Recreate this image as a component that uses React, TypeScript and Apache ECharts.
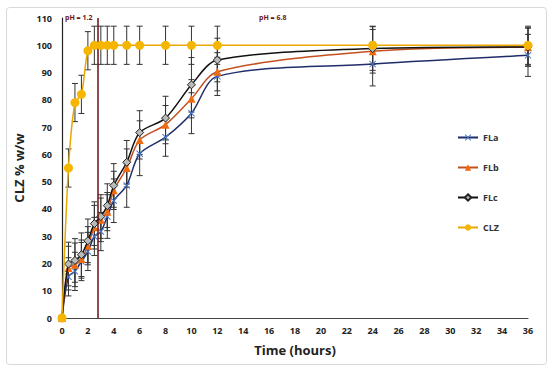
import React, { useEffect, useRef } from "react";
import * as echarts from "echarts";

const times = [0, 0.5, 1, 1.5, 2, 2.5, 3, 3.5, 4, 5, 6, 8, 10, 12, 24, 36];
const flaValues = [0, 15.1, 17.1, 20.7, 24.4, 29.9, 31.7, 37.2, 43, 48.6, 60.2, 66.3, 75.1, 88.6, 93.1, 96.3];
const flbValues = [0, 18.3, 19.5, 21.6, 26.5, 33.3, 36, 39, 46.8, 55, 65.3, 70.9, 80.4, 90.3, 97.8, 99.3];
const flcValues = [0, 19.8, 21.1, 23.2, 28.3, 34.6, 37.2, 41.2, 48.6, 57.1, 68, 73.3, 85.5, 94.6, 98.8, 99.4];
const clzValues = [0, 55, 79, 82, 98, 100, 100, 100, 100, 100, 100, 100, 100, 100, 100, 100];
const flaErrors = [0, 7, 7, 7, 7, 7, 7, 8, 8, 8, 8, 7, 7.5, 7, 8, 7.7];
const flbErrors = [0, 8, 8, 7, 7, 8, 8, 7, 7, 7, 7, 7, 7, 7, 8, 7];
const flcErrors = [0, 8, 8, 8, 8, 8, 8, 8, 8, 8, 8, 8, 10, 8, 8, 7];
const clzErrors = [0, 7, 7, 7, 7, 7, 7, 7, 7, 7, 7, 7, 7, 7, 7, 7];
const phSwitchTime = 2.8;
const phLabels = ["pH = 1.2", "pH = 6.8"];
const seriesNames = ["FLa", "FLb", "FLc", "CLZ"];

const xMark = "path://M0,1 L1,0 L5,4 L9,0 L10,1 L6,5 L10,9 L9,10 L5,6 L1,10 L0,9 L4,5 Z";

function pairs(vals: number[]) {
  return times.map((t, i) => [t, vals[i]]);
}
function errData(vals: number[], errs: number[]) {
  return times
    .map((t, i) => [t, vals[i] - errs[i], vals[i] + errs[i]])
    .filter((d, i) => errs[i] > 0);
}

function errorSeries(vals: number[], errs: number[]) {
  return {
    type: "custom",
    silent: true,
    z: 1,
    legendHoverLink: false,
    data: errData(vals, errs),
    renderItem: (params: any, api: any) => {
      const x = api.value(0);
      const lo = api.coord([x, api.value(1)]);
      const hi = api.coord([x, api.value(2)]);
      const w = 3;
      const style = { stroke: "#333", lineWidth: 1 };
      return {
        type: "group",
        children: [
          { type: "line", shape: { x1: lo[0], y1: lo[1], x2: hi[0], y2: hi[1] }, style },
          { type: "line", shape: { x1: lo[0] - w, y1: lo[1], x2: lo[0] + w, y2: lo[1] }, style },
          { type: "line", shape: { x1: hi[0] - w, y1: hi[1], x2: hi[0] + w, y2: hi[1] }, style },
        ],
      };
    },
  };
}

export default function App() {
  const ref = useRef<HTMLDivElement>(null);
  useEffect(() => {
    const chart = echarts.init(ref.current!, null, { renderer: "svg" });
    const font = "'Open Sans', 'Liberation Sans', sans-serif";
    chart.setOption({
      animation: false,
      backgroundColor: "#fff",
      textStyle: { fontFamily: font },
      grid: { left: 62, right: 22, top: 18, bottom: 52 },
      legend: {
        orient: "vertical",
        left: 452,
        top: 128,
        itemGap: 21,
        itemWidth: 20,
        itemHeight: 8,
        data: seriesNames,
        textStyle: { fontSize: 9, fontWeight: "bold", color: "#333", fontFamily: font },
      },
      graphic: [
        {
          type: "rect",
          left: 4,
          top: 5,
          shape: { width: 540, height: 357, r: 3 },
          style: { fill: "none", stroke: "#d9d9d9", lineWidth: 1 },
          silent: true,
        },
        {
          type: "text",
          left: 65,
          top: 14,
          style: { text: phLabels[0], fontSize: 7, fontWeight: "bold", fill: "#6b1616", fontFamily: font },
        },
        {
          type: "text",
          left: 259,
          top: 14,
          style: { text: phLabels[1], fontSize: 7, fontWeight: "bold", fill: "#6b1616", fontFamily: font },
        },
      ],
      xAxis: {
        type: "value",
        min: 0,
        max: 36,
        interval: 2,
        name: "Time (hours)",
        nameLocation: "middle",
        nameGap: 25,
        nameTextStyle: { fontSize: 13, fontWeight: "bold", color: "#222", fontFamily: font },
        axisLine: { lineStyle: { color: "#444", width: 1.2 } },
        axisTick: { show: false },
        splitLine: { show: false },
        axisLabel: { fontSize: 9, fontWeight: "bold", color: "#222", margin: 8 },
      },
      yAxis: {
        type: "value",
        min: 0,
        max: 110,
        interval: 10,
        name: "CLZ % w/w",
        nameLocation: "middle",
        nameGap: 30,
        nameTextStyle: { fontSize: 13, fontWeight: "bold", color: "#222", fontFamily: font },
        axisLine: { show: true, lineStyle: { color: "#222", width: 1.2 } },
        axisTick: { show: false },
        splitLine: { show: false },
        axisLabel: { fontSize: 9, fontWeight: "bold", color: "#222", margin: 10 },
      },
      series: [
        errorSeries(flaValues, flaErrors),
        errorSeries(flbValues, flbErrors),
        errorSeries(flcValues, flcErrors),
        errorSeries(clzValues, clzErrors),
        {
          name: "FLa",
          type: "line",
          smooth: 0.3,
          z: 3,
          data: pairs(flaValues),
          symbol: xMark,
          symbolSize: 7,
          lineStyle: { color: "#1f2d6b", width: 1.5 },
          itemStyle: { color: "#4a78c8" },
        },
        {
          name: "FLb",
          type: "line",
          smooth: 0.3,
          z: 3,
          data: pairs(flbValues),
          symbol: "triangle",
          symbolSize: 8,
          lineStyle: { color: "#c4501e", width: 1.5 },
          itemStyle: { color: "#f06a10" },
        },
        {
          name: "FLc",
          type: "line",
          smooth: 0.3,
          z: 4,
          data: pairs(flcValues),
          symbol: "diamond",
          symbolSize: 8,
          lineStyle: { color: "#111", width: 1.5 },
          itemStyle: { color: "#b8bcb8", borderColor: "#222", borderWidth: 1 },
        },
        {
          name: "CLZ",
          type: "line",
          smooth: 0.3,
          z: 5,
          data: pairs(clzValues),
          symbol: "circle",
          symbolSize: 9,
          lineStyle: { color: "#e8a800", width: 1.5 },
          itemStyle: { color: "#f5b500" },
          markLine: {
            silent: true,
            symbol: ["none", "none"],
            label: { show: false },
            lineStyle: { color: "#6b1010", width: 1.5, type: "solid" },
            data: [{ xAxis: phSwitchTime }],
          },
        },
      ],
    });
    return () => chart.dispose();
  }, []);
  return (
    <div
      ref={ref}
      style={{ position: "fixed", left: 0, top: 0, width: 550, height: 370 }}
    />
  );
}
